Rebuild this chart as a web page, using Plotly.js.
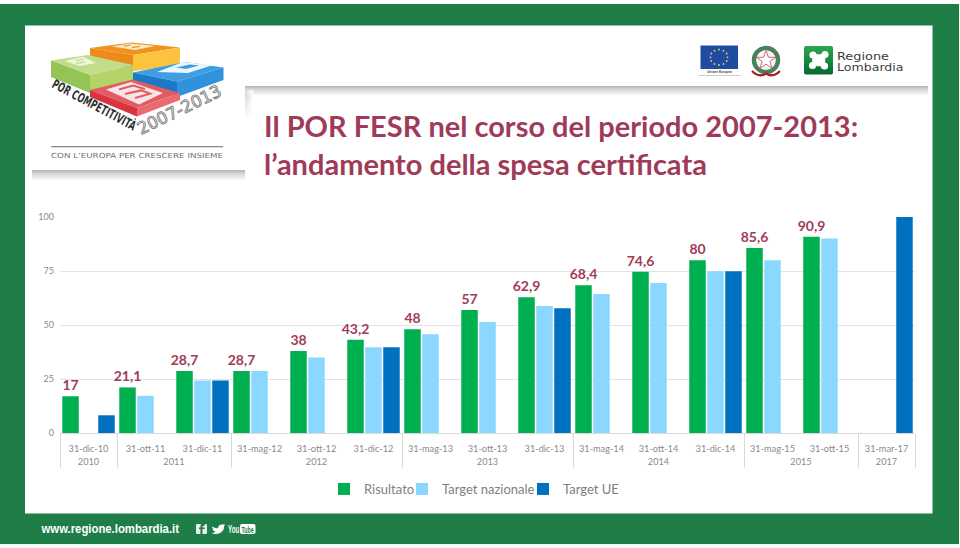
<!DOCTYPE html>
<html lang="it">
<head>
<meta charset="utf-8">
<title>POR FESR</title>
<script src="https://cdn.plot.ly/plotly-3.0.1.min.js"></script>
<style>
html,body{margin:0;padding:0;background:#f4fbf7;overflow:hidden}
#wrap{position:relative;width:960px;height:548px}
#bg,#chart{position:absolute;left:0;top:0;width:960px;height:548px}
</style>
</head>
<body>
<div id="wrap">
<svg id="bg" width="960" height="548" viewBox="0 0 960 548" xmlns="http://www.w3.org/2000/svg">
<defs>
<linearGradient id="shTop" x1="0" y1="0" x2="0" y2="1"><stop offset="0" stop-color="#b4b4b4"/><stop offset=".35" stop-color="#d8d8d8"/><stop offset="1" stop-color="#ffffff"/></linearGradient>
<linearGradient id="shRight" x1="0" y1="0" x2="1" y2="0"><stop offset="0" stop-color="#d8d8d8"/><stop offset="1" stop-color="#ffffff"/></linearGradient>
<linearGradient id="shFade" x1="0" y1="0" x2="0" y2="1"><stop offset="0" stop-color="#ffffff" stop-opacity="0"/><stop offset="1" stop-color="#ffffff"/></linearGradient>
<linearGradient id="lomb" x1="0" y1="0" x2="0" y2="1"><stop offset="0" stop-color="#2aa84f"/><stop offset="1" stop-color="#07692f"/></linearGradient>
</defs>
<rect x="0" y="0" width="960" height="4" fill="#ffffff"/>
<rect x="0" y="4" width="959" height="540" fill="#1f7e47"/>
<rect x="25" y="25.5" width="907.5" height="488" fill="#ffffff"/>
<!-- shadows -->
<rect x="245" y="86" width="683" height="10" fill="url(#shTop)"/>
<rect x="245" y="90" width="8" height="30" fill="url(#shRight)"/>
<rect x="245" y="96" width="8" height="24" fill="url(#shFade)"/>
<rect x="32" y="170" width="213" height="11" fill="url(#shTop)"/>
<!-- logo -->
<g stroke="none">
<polygon points="90,48 131.5,42.5 180,47.5 133,55" fill="#f0931e"/>
<polygon points="90,48 133,55 133,71 90,58" fill="#ee8a1a"/>
<polygon points="133,55 180,47.5 180,66 133,71" fill="#fdc33e"/>
<polygon points="51,60.5 88,55 133,65 90,75" fill="#c3dc8a"/>
<polygon points="51,60.5 90,75 90,93 51,77" fill="#93c455"/>
<polygon points="90,75 133,65 133,80 90,93" fill="#b3d468"/>
<polygon points="133,72.5 185,62 223.5,67.5 177,81.5" fill="#3e9fe0"/>
<polygon points="133,72.5 177,81.5 177,97 133,80" fill="#1c78c8"/>
<polygon points="177,81.5 223.5,67.5 223.5,80 177,97" fill="#2e92dc"/>
<polygon points="90,90 133,79.5 180,93 137,108" fill="#e35a63"/>
<polygon points="90,90 137,108 137,116.5 90,97" fill="#d8333f"/>
<polygon points="137,108 180,93 180,100 137,116.5" fill="#ea6a72"/>
<!-- block letters -->
<polygon points="112,46.5 130,43.5 155,46 135,50" fill="#fbe9c8"/>
<path d="M124,46.2 L131,45 M132,47.6 L140,46.4" stroke="#f0931e" stroke-width="1.2"/>
<polygon points="65,61 83,56.7 96,63 80,66" fill="#eef5dc"/>
<path d="M76,60.8 L84,59 M76,63.6 L85,61.8" stroke="#c3dc8a" stroke-width="1.2"/>
<polygon points="157,72 183,62 213,65 188,73" fill="#eaf5fc"/>
<path d="M176,67.5 L190,64.5 L199,65.5 L186,69 Z" fill="#3e9fe0"/>
<polygon points="106,89.5 131,82 163,93 139,104.5" fill="#f8e4e4"/>
<path d="M119,89.5 L133,85.6 L145,89 M125,94 L141,90.4 L150,93.6 L135,98" fill="none" stroke="#e35a63" stroke-width="2"/>
</g>
<text transform="translate(51,87) rotate(28) scale(.62,1)" font-family="'DejaVu Sans'" font-size="13" font-weight="700" fill="#2f2f2f" textLength="150" lengthAdjust="spacing">POR COMPETITIVITÀ</text>
<text transform="translate(141,135) rotate(-26)" font-family="'DejaVu Sans'" font-size="17" fill="#ffffff" stroke="#7c7c7c" stroke-width=".9" textLength="91" lengthAdjust="spacingAndGlyphs">2007-2013</text>
<rect x="51" y="146" width="172" height="1.3" fill="#8a8a8a"/>
<text x="51" y="157.5" font-family="'DejaVu Sans'" font-size="7" fill="#6f6f6f" textLength="172" lengthAdjust="spacingAndGlyphs">CON L’EUROPA PER CRESCERE INSIEME</text>
<!-- EU flag -->
<rect x="700.5" y="45.5" width="37.5" height="23.5" fill="#1f4ba3"/>
<g fill="#e8d44a">
<circle cx="719" cy="49.5" r=".9"/><circle cx="723.5" cy="50.7" r=".9"/><circle cx="726.7" cy="53.5" r=".9"/><circle cx="727.5" cy="57.3" r=".9"/><circle cx="726.7" cy="61" r=".9"/><circle cx="723.5" cy="64" r=".9"/><circle cx="719" cy="65" r=".9"/><circle cx="714.5" cy="64" r=".9"/><circle cx="711.3" cy="61" r=".9"/><circle cx="710.5" cy="57.3" r=".9"/><circle cx="711.3" cy="53.5" r=".9"/><circle cx="714.5" cy="50.7" r=".9"/>
</g>
<text x="719.5" y="72.5" text-anchor="middle" font-family="'Liberation Sans'" font-size="3.2" font-weight="700" fill="#444">Unione Europea</text>
<text x="719.5" y="76" text-anchor="middle" font-family="'Liberation Sans'" font-size="2.5" fill="#777">Fondo Europeo di Sviluppo Regionale</text>
<!-- Italian emblem -->
<circle cx="766" cy="60" r="12" fill="none" stroke="#4c8059" stroke-width="4.5"/>
<circle cx="766" cy="60" r="9.5" fill="#f5f5f5"/>
<polygon points="766,50.5 768.4,57.3 775.5,57.3 769.8,61.5 772,68.3 766,64.2 760,68.3 762.2,61.5 756.5,57.3 763.6,57.3" fill="#ffffff" stroke="#c95a66" stroke-width=".9"/>
<path d="M752,71 Q759,78 766,73.5 Q773,78 780,71" fill="none" stroke="#a8202c" stroke-width="2.4"/>
<!-- Regione Lombardia -->
<rect x="804" y="46" width="29" height="28.5" rx="2" fill="url(#lomb)"/>
<g fill="#ffffff">
<circle cx="813" cy="55" r="3.6"/><circle cx="825" cy="54.5" r="3.6"/><circle cx="812.5" cy="65.5" r="3.6"/><circle cx="824.5" cy="66" r="3.6"/>
<path d="M813,55 L825,54.5 L824.5,66 L812.5,65.5 Z" stroke="#ffffff"/>
</g>
<g fill="#3c3c3c" font-family="'DejaVu Sans'" font-size="9.6">
<text x="837" y="59.5" textLength="52" lengthAdjust="spacingAndGlyphs">Regione</text>
<text x="837" y="70.7" textLength="66.5" lengthAdjust="spacingAndGlyphs">Lombardia</text>
</g>
<!-- footer -->
<text x="41.5" y="533" font-family="'Liberation Sans'" font-size="13" font-weight="700" fill="#ffffff" textLength="137.5" lengthAdjust="spacingAndGlyphs">www.regione.lombardia.it</text>
<rect x="196" y="524" width="11" height="10" rx="1" fill="#e8eee9"/>
<path d="M202.5,534 V529 H204.6 V527.4 H202.5 V526.4 Q202.5,525.6 204.8,525.8 V524 H201 Q200.4,525 200.4,527.4 H199 V529 H200.4 V534 Z" fill="#1f7e47"/>
<path d="M212,526.5 Q216,529 218,528 Q218.5,524.5 222,524.5 L225,524.5 L224,526.5 Q224,531 220,533 Q216,535 211.5,533 Q214,533 215.5,531.5 Q213,531 212.5,529 Q213,529 213.6,529 Q211.8,528 212,526.5 Z" fill="#ffffff"/>
<text transform="translate(228,533) scale(.62,1)" font-family="'Liberation Sans'" font-size="10" font-weight="700" fill="#ffffff">You</text>
<rect x="240" y="524" width="15.5" height="10" rx="2" fill="#ffffff"/>
<text transform="translate(241.5,532.5) scale(.62,1)" font-family="'Liberation Sans'" font-size="8.5" font-weight="700" fill="#1f7e47">Tube</text>
</svg>
<div id="chart"></div>
</div>
<script>
const years = ["2010","2011","2011","2012","2012","2012","2013","2013","2013","2014","2014","2014","2015","2015","2017"];
const dates = ["31-dic-10","31-ott-11","31-dic-11","31-mag-12","31-ott-12","31-dic-12","31-mag-13","31-ott-13","31-dic-13","31-mag-14","31-ott-14","31-dic-14","31-mag-15","31-ott-15","31-mar-17"];
const risultato = [17,21.1,28.7,28.7,38,43.2,48,57,62.9,68.4,74.6,80,85.6,90.9,null];
const targetNazionale = [null,17.2,24.3,28.7,35,39.7,45.7,51.4,58.8,64.3,69.4,74.9,80,90,null];
const targetUE = [8.2,null,24.3,null,null,39.7,null,null,57.8,null,null,74.9,null,null,100];
const titleText = "Il POR FESR nel corso del periodo 2007-2013:<br>l’andamento della spesa certificata";

const labelText = risultato.map(v => v === null ? "" : String(v).replace(".", ","));
const small = s => '<span style="font-size:9.2px">' + s + '</span>';
const x = [years.map(small), dates.map(small)];
const traces = [
  {type:"bar", name:"Risultato", x:x, y:risultato, marker:{color:"#00b050"},
   text:labelText, textposition:"outside", cliponaxis:false, constraintext:"none",
   textfont:{family:"Lato", size:14, color:"#a23b58", weight:700}, hoverinfo:"y", legend:"legend"},
  {type:"bar", name:"Target nazionale", x:x, y:targetNazionale, marker:{color:"#8ad8ff"}, hoverinfo:"y", legend:"legend2"},
  {type:"bar", name:"Target UE", x:x, y:targetUE, marker:{color:"#0070c0"}, hoverinfo:"y", legend:"legend3"}
];
const legendBase = {orientation:"h", xanchor:"left", y:-(474-433)/216, yanchor:"top",
  font:{family:"Lato", size:13, color:"#7f7f7f"}, bgcolor:"rgba(0,0,0,0)"};
const layout = {
  width:960, height:548,
  paper_bgcolor:"rgba(0,0,0,0)", plot_bgcolor:"rgba(0,0,0,0)",
  margin:{l:60, r:45, t:217, b:115, pad:0},
  barmode:"group", bargap:0.053, bargroupgap:0.083,
  font:{family:"Lato", color:"#8a8a8a", size:10},
  title:{text:titleText, x:264/960, xanchor:"left", xref:"container", y:1-137/548, yanchor:"top",
         font:{family:"Lato", size:29, weight:700, color:"#9f3b58"}},
  xaxis:{type:"multicategory", showgrid:false, linecolor:"#d9d9d9", linewidth:1, ticks:"", tickangle:0,
         tickfont:{family:"Lato", size:15, color:"#8a8a8a"},
         showdividers:true, dividercolor:"#d9d9d9", dividerwidth:1},
  yaxis:{range:[0,100], tickvals:[0,25,50,75,100], ticktext:["0","25","50","75","100"],
         gridcolor:"#e3e3e6", gridwidth:1, zeroline:false, showline:false, ticks:"", ticklabelstandoff:5,
         tickfont:{family:"Lato", size:9, color:"#8a8a8a"}},
  showlegend:true,
  legend:Object.assign({}, legendBase, {x:(324-60)/855}),
  legend2:Object.assign({}, legendBase, {x:(402-60)/855}),
  legend3:Object.assign({}, legendBase, {x:(523-60)/855})
};
Plotly.newPlot("chart", traces, layout, {displayModeBar:false, staticPlot:true});
</script>
</body>
</html>
